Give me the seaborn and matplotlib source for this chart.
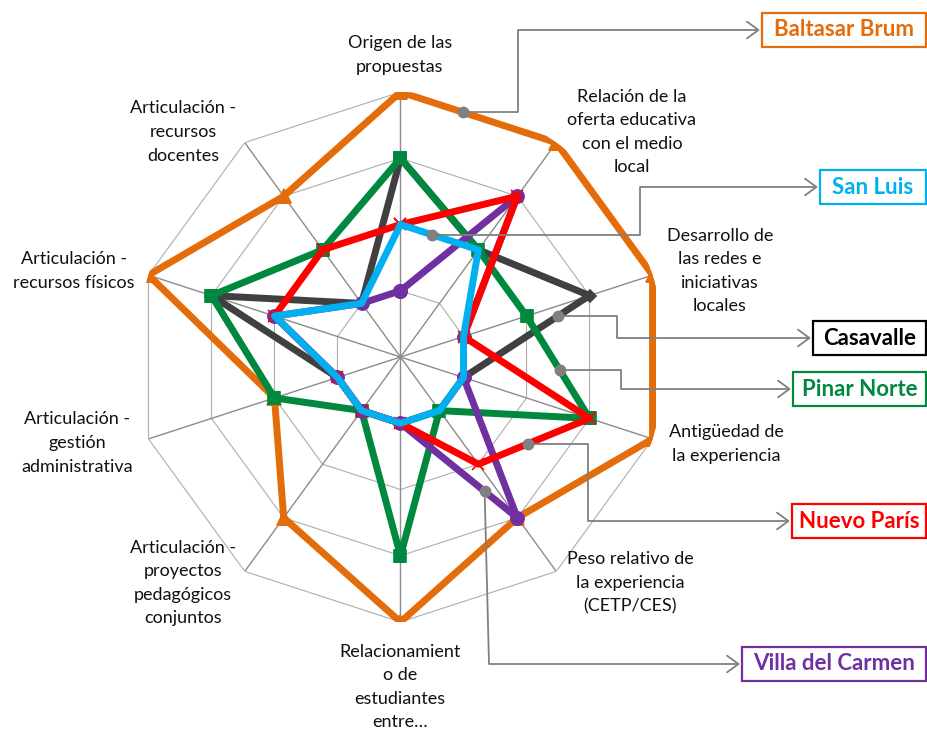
import numpy as np
import pandas as pd
import matplotlib
matplotlib.use("Agg")
import matplotlib.pyplot as plt
import seaborn as sns
from matplotlib.patches import Rectangle, FancyArrowPatch
from matplotlib.path import Path
from matplotlib.transforms import IdentityTransform

# ejes del radar (en sentido horario desde arriba)
categorias = [
    "Origen de las\npropuestas",
    "Relación de la\noferta educativa\ncon el medio\nlocal",
    "Desarrollo de\nlas redes e\niniciativas\nlocales",
    "Antigüedad de\nla experiencia",
    "Peso relativo de\nla experiencia\n(CETP/CES)",
    "Relacionamient\no de\nestudiantes\nentre…",
    "Articulación -\nproyectos\npedagógicos\nconjuntos",
    "Articulación -\ngestión\nadministrativa",
    "Articulación -\nrecursos físicos",
    "Articulación -\nrecursos\ndocentes",
]

baltasar_brum = [4, 4, 4, 4, 3, 4, 3, 2, 4, 3]
casavalle = [3, 2, 3, 1, 1, 1, 1, 1, 3, 1]
pinar_norte = [3, 2, 2, 3, 1, 3, 1, 2, 3, 2]
villa_del_carmen = [1, 3, 1, 1, 3, 1, 1, 1, 2, 1]
nuevo_paris = [2, 3, 1, 3, 2, 1, 1, 1, 2, 2]
san_luis = [2, 2, 1, 1, 1, 1, 1, 1, 2, 1]

niveles = [1, 2, 3, 4]

W, H = 928, 731
sns.set_style("white")
plt.rcParams["font.family"] = ["Lato", "DejaVu Sans"]

fig = plt.figure(figsize=(W / 100, H / 100), dpi=100)
cx, cy, R = 400.5, 357, 265
ax = fig.add_axes([(cx - R) / W, (H - cy - R) / H, 2 * R / W, 2 * R / H], projection="polar")
ax.set_theta_zero_location("N")
ax.set_theta_direction(-1)

n = len(categorias)
theta = np.linspace(0, 2 * np.pi, n, endpoint=False)
theta_c = np.append(theta, theta[0] + 2 * np.pi)

# rejilla decagonal
for k in niveles:
    ax.plot(theta_c, [k] * (n + 1), color="#ADADAD", lw=0.8, zorder=1)
for t in theta:
    ax.plot([t, t], [0, niveles[-1]], color="#8C8C8C", lw=1.0, zorder=1)

series = [
    ("Baltasar Brum", baltasar_brum, "#E46C0A", "^", 10.5, 2),
    ("Casavalle", casavalle, "#404040", "D", 6.5, 3),
    ("Pinar Norte", pinar_norte, "#00893E", "s", 8.5, 4),
    ("Villa del Carmen", villa_del_carmen, "#7030A0", "o", 9.5, 5),
    ("Nuevo París", nuevo_paris, "#FF0000", "x", 8, 6),
    ("San Luis", san_luis, "#00B0F0", None, 0, 7),
]

for nombre, vals, col, mk, ms, z in series:
    v = np.append(vals, vals[0])
    kw = dict(marker=mk, ms=ms, mfc=col, mec=col, mew=1.2) if mk else dict(marker="")
    sns.lineplot(x=theta_c, y=v, ax=ax, sort=False, estimator=None, color=col,
                 lw=5.0, zorder=z, solid_joinstyle="round", **kw)

ax.set_ylim(0, niveles[-1])
ax.axis("off")
ax.set_xlabel("")
ax.set_ylabel("")

# etiquetas de los ejes
pos_cat = [(400, 55), (632, 132), (720, 271), (726, 444), (630, 583),
           (400, 687), (183, 583), (77, 443), (74, 271), (183, 132)]
for txt, (x, y) in zip(categorias, pos_cat):
    fig.text(x / W, 1 - y / H, txt, ha="center", va="center", ma="center",
             fontsize=13, color="#111111", linespacing=1.58)

# llamadas con cuadros a la derecha
fig.canvas.draw()
to_px = ax.transData


def punto(vals, i, t):
    a = to_px.transform((theta[i], vals[i]))
    b = to_px.transform((theta_c[i + 1], vals[(i + 1) % n]))
    return a + t * (b - a)


llamadas = [
    # serie, valores, segmento, fraccion, ruta, x giro, y caja, x caja, color
    ("Baltasar Brum", baltasar_brum, 0, 0.40, "h", 518, 30, 762, "#E46C0A"),
    ("San Luis", san_luis, 0, 0.40, "h", 640, 187, 820, "#00B0F0"),
    ("Casavalle", casavalle, 2, 0.25, "h", 617, 338, 813, "#000000"),
    ("Pinar Norte", pinar_norte, 2, 0.53, "h", 621, 389, 793, "#00893E"),
    ("Nuevo París", nuevo_paris, 3, 0.55, "h", 588, 521, 792, "#FF0000"),
    ("Villa del Carmen", villa_del_carmen, 4, 0.28, "v", 489, 664, 742, "#7030A0"),
]

for nombre, vals, i, t, ruta, xg, yl, xb, col in llamadas:
    p = punto(vals, i, t)
    x0, y0 = p[0], p[1]
    yl_d = H - yl
    if ruta == "h":
        verts = [(x0, y0), (xg, y0), (xg, yl_d), (xb - 2, yl_d)]
    else:
        verts = [(x0, y0), (xg, yl_d), (xb - 2, yl_d)]
    codes = [Path.MOVETO] + [Path.LINETO] * (len(verts) - 1)
    arr = FancyArrowPatch(path=Path(verts, codes), arrowstyle="->,head_length=0.55,head_width=0.4",
                          mutation_scale=15, color="#808080", lw=1.3,
                          transform=IdentityTransform(), zorder=9)
    fig.add_artist(arr)
    fig.add_artist(plt.Line2D([x0], [y0], marker="o", ms=7.5, color="#808080",
                              transform=IdentityTransform(), zorder=10))
    rect = Rectangle((xb, yl_d - 17), 926 - xb, 34, transform=IdentityTransform(),
                     facecolor="white", edgecolor=col, lw=1.6, zorder=11)
    fig.add_artist(rect)
    fig.text((xb + 926) / 2 / W, 1 - yl / H, nombre, ha="center", va="center",
             fontsize=16, fontweight="bold", color=col, zorder=12)

fig.savefig("out.png", dpi=100)
